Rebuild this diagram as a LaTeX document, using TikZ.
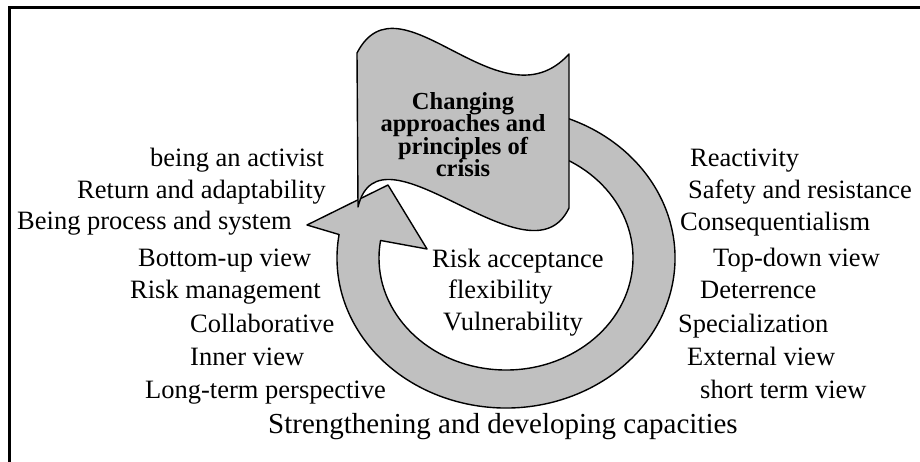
\documentclass[tikz,border=0pt]{standalone}
\usepackage{fontspec}
\setmainfont{Liberation Serif}
\definecolor{bandgrey}{RGB}{192,192,192}
\lineskiplimit=-100pt
\tikzset{
  lbl/.style={anchor=base west, inner sep=0pt, font=\fontsize{26.5}{30}\selectfont},
  bigl/.style={lbl, font=\fontsize{29}{33}\selectfont},
  greyshape/.style={fill=bandgrey, draw=black, line width=1.4pt, line join=round},
}
\begin{document}
\begin{tikzpicture}[x=1pt, y=1pt]
        \useasboundingbox (0,0) rectangle (920,-462);
        % frame, open on the right and at the bottom
        \draw[line width=3.5pt] (9.5,-470) -- (9.5,-7.5) -- (930,-7.5);

        % circular arrow round the centre words
        \coordinate (c) at (506,-258);
        \coordinate (barbl) at (307,-225); \coordinate (tip) at (388,-185);
        \coordinate (barbr) at (427,-249);
        \filldraw[greyshape] ([shift={(c)}]75:169 and 150)
            arc[start angle=75, end angle=-189, x radius=169pt, y radius=150pt]
            -- (barbl) -- (tip) -- (barbr) -- ([shift={(c)}]-189:127 and 112)
            arc[start angle=-189, end angle=75, x radius=127pt, y radius=112pt] -- cycle;

        % the flag on top
        \filldraw[greyshape] (357,-53) .. controls (400,30) and (500,-130) .. (569,-54)
            -- (569,-208) .. controls (530,-290) and (380,-115) .. (358,-207) -- cycle;
        \node[align=center, inner sep=0pt, font=\bfseries\fontsize{24.5}{22.5}\selectfont]
            (title) at (463,-134.4) {Changing\\approaches and\\principles of\\crisis};

        % left column
        \node[lbl] (activist) at (150,-167) {being an activist};
        \node[lbl] (returnadapt) at (77,-199) {Return and adaptability};
        \node[lbl] (procsys) at (17,-230) {Being process and system};
        \node[lbl] (bottomup) at (138,-266) {Bottom-up view};
        \node[lbl] (riskmgmt) at (130,-298) {Risk management};
        \node[lbl] (collab) at (190,-332) {Collaborative};
        \node[lbl] (innerview) at (190,-365) {Inner view};
        \node[lbl] (longterm) at (145,-398) {Long-term perspective};

        % right column
        \node[lbl] (reactivity) at (690,-167) {Reactivity};
        \node[lbl] (safety) at (688,-199) {Safety and resistance};
        \node[lbl] (conseq) at (680,-231) {Consequentialism};
        \node[lbl] (topdown) at (713,-266) {Top-down view};
        \node[lbl] (deterrence) at (700,-298) {Deterrence};
        \node[lbl] (special) at (678,-332) {Specialization};
        \node[lbl] (external) at (687,-365) {External view};
        \node[lbl] (shortterm) at (700,-398) {short term view};

        % inside the loop
        \node[lbl] (riskacc) at (432,-267) {Risk acceptance};
        \node[lbl] (flex) at (448,-298) {flexibility};
        \node[lbl] (vulner) at (443,-330) {Vulnerability};

        \node[bigl] (capacities) at (268,-433) {Strengthening and developing capacities};
\end{tikzpicture}
\end{document}
